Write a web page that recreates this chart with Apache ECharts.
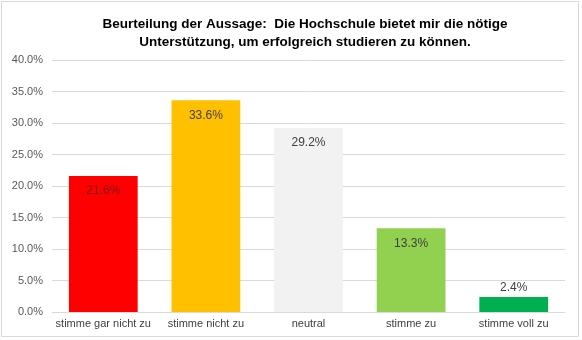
<!DOCTYPE html>
<html><head><meta charset="utf-8">
<script src="https://cdn.jsdelivr.net/npm/echarts@6/dist/echarts.min.js"></script>
<style>html,body{margin:0;padding:0;background:#fff}#c{width:582px;height:340px}</style>
</head><body><div id="c"></div>
<script>
const categories = ['stimme gar nicht zu', 'stimme nicht zu', 'neutral', 'stimme zu', 'stimme voll zu'];
const values = [21.6, 33.6, 29.2, 13.3, 2.4];
const colors = ['#FF0000', '#FFC000', '#F2F2F2', '#92D050', '#00B050'];
const labelPos = ['insideTop', 'insideTop', 'insideTop', 'insideTop', 'top'];
const labelColors = ['#7a1515', '#404040', '#404040', '#404040', '#404040'];
const titleText = 'Beurteilung der Aussage:  Die Hochschule bietet mir die nötige\nUnterstützung, um erfolgreich studieren zu können.';

const chart = echarts.init(document.getElementById('c'));
chart.setOption({
  animation: false,
  textStyle: { fontFamily: 'Liberation Sans, Arial, sans-serif' },
  graphic: [{ type: 'rect', shape: { x: 1.5, y: 1.5, width: 577, height: 335 }, style: { fill: 'none', stroke: '#D9D9D9', lineWidth: 1 }, z: -1 }],
  title: {
    text: titleText, left: 300, top: 10, textAlign: 'center',
    textStyle: { fontSize: 13.5, fontWeight: 'bold', color: '#000', lineHeight: 18, fontFamily: 'Liberation Sans, Arial, sans-serif' }
  },
  grid: { left: 52, right: 17, top: 60, bottom: 28 },
  xAxis: {
    type: 'category', data: categories,
    axisLine: { lineStyle: { color: '#D9D9D9' } },
    axisTick: { show: false },
    axisLabel: { color: '#404040', fontSize: 11, margin: 6, interval: 0 }
  },
  yAxis: {
    type: 'value', min: 0, max: 40, interval: 5,
    axisLabel: { color: '#595959', fontSize: 11, margin: 9, formatter: v => v.toFixed(1) + '%' },
    splitLine: { lineStyle: { color: '#D9D9D9' } },
    axisLine: { show: false }, axisTick: { show: false }
  },
  series: [{
    type: 'bar', barCategoryGap: '33%',
    data: values.map((v, i) => ({
      value: v, itemStyle: { color: colors[i] },
      label: { show: true, position: labelPos[i], distance: labelPos[i] === 'top' ? 3 : 9, color: labelColors[i], fontSize: 12, formatter: p => p.value.toFixed(1) + '%' }
    }))
  }]
});
</script></body></html>
